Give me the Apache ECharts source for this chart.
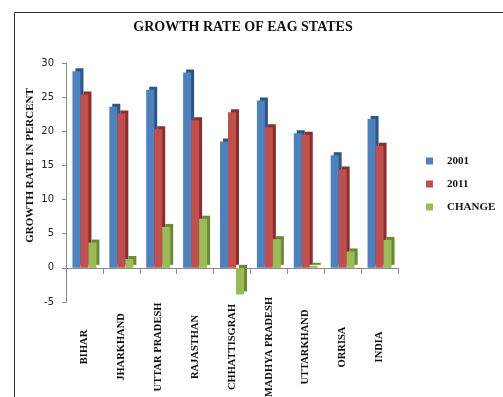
<!DOCTYPE html>
<html><head><meta charset="utf-8">
<script src="https://cdn.jsdelivr.net/npm/echarts@6/dist/echarts.min.js"></script>
<style>html,body{margin:0;padding:0;background:#fff}#c{width:503px;height:397px}</style>
</head><body><div id="c"></div>
<script>
var categories = ['BIHAR','JHARKHAND','UTTAR PRADESH','RAJASTHAN','CHHATTISGRAH','MADHYA PRADESH','UTTARKHAND','ORRISA','INDIA'];
var growth2001 = [28.8, 23.6, 26.1, 28.6, 18.5, 24.5, 19.7, 16.5, 21.8];
var growth2011 = [25.4, 22.6, 20.3, 21.6, 22.8, 20.6, 19.5, 14.4, 17.9];
var change = [3.7, 1.3, 6.0, 7.2, -3.9, 4.2, 0.3, 2.4, 4.1];
var yTicks = {min: -5, max: 30, interval: 5};

var serif = '"Liberation Serif","Times New Roman",serif';
function bar(name, data, color, side){
  return {name: name, type: 'bar', data: data, barWidth: 8, barGap: '0%',
    itemStyle: {color: color, shadowColor: side, shadowOffsetX: 3, shadowOffsetY: -3, shadowBlur: 0}};
}
var chart = echarts.init(document.getElementById('c'));
chart.setOption({
  animation: false,
  title: {text: 'GROWTH RATE OF EAG STATES', left: 238, textAlign: 'center', top: 15,
    textStyle: {fontFamily: serif, fontWeight: 'bold', fontSize: 14, color: '#111'}},
  graphic: [{type: 'rect', left: 12, top: 10, shape: {width: 520, height: 420},
    style: {fill: 'none', stroke: '#333', lineWidth: 1}, silent: true}],
  legend: {orient: 'vertical', left: 421, top: 149, itemWidth: 7, itemHeight: 7, itemGap: 9,
    icon: 'rect', data: ['2001','2011','CHANGE'],
    textStyle: {fontFamily: serif, fontWeight: 'bold', fontSize: 11, color: '#111', lineHeight: 14, padding: [0,0,0,9]}},
  grid: {left: 66, right: 105, top: 63, bottom: 95, containLabel: false, outerBoundsMode: 'none'},
  xAxis: {type: 'category', data: categories,
    axisLine: {onZero: true, lineStyle: {color: '#8a8a8a'}},
    axisTick: {show: true, length: 6, lineStyle: {color: '#8a8a8a'}},
    axisLabel: {rotate: 90, align: 'center', verticalAlign: 'middle', margin: 45, interval: 0,
      fontFamily: serif, fontWeight: 'bold', fontSize: 10.5, color: '#111'}},
  yAxis: {type: 'value', min: yTicks.min, max: yTicks.max, interval: yTicks.interval,
    name: 'GROWTH RATE IN PERCENT', nameLocation: 'middle', nameGap: 30, nameMoveOverlap: false,
    nameTextStyle: {fontFamily: serif, fontWeight: 'bold', fontSize: 11, color: '#111', padding: [0,0,0,34]},
    axisLine: {show: true, lineStyle: {color: '#8a8a8a'}},
    axisTick: {show: true, length: 4, lineStyle: {color: '#8a8a8a'}},
    splitLine: {show: false},
    axisLabel: {margin: 12, fontFamily: 'DejaVu Sans', fontSize: 10, color: '#222'}},
  series: [
    bar('2001', growth2001, '#4F81BD', '#2F5587'),
    bar('2011', growth2011, '#C0504D', '#8A2F2D'),
    bar('CHANGE', change, '#9BBB59', '#6B8A33')
  ]
});
</script></body></html>
